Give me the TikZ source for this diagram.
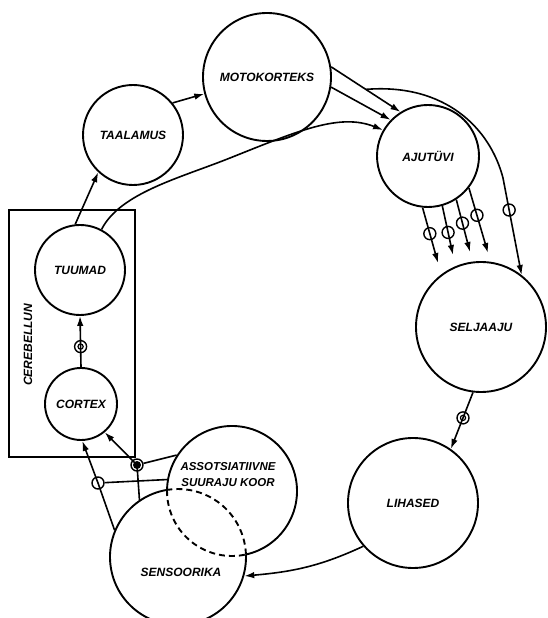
\documentclass[tikz,border=0pt]{standalone}
\usepackage{fontspec}
\newfontfamily\lblfont{Liberation Sans}
\usetikzlibrary{arrows.meta,calc}

\begin{document}
\begin{tikzpicture}[x=1pt,y=1pt,
    lbl/.style={font=\lblfont\bfseries\itshape\fontsize{12}{15}\selectfont,align=center},
    ring/.style={lbl,circle,draw,line width=1.9pt,inner sep=0pt},
    ringline/.style={line width=1.9pt},
    link/.style={line width=1.6pt},
    arr/.style={link,-{Latex[length=10pt,width=6.5pt]}},
    sign/.style={circle,draw,line width=1.4pt,minimum size=12pt,inner sep=0pt},
    signring/.style={sign,path picture={\draw[line width=1.2pt] (path picture bounding box.center) circle (2.6pt);}},
    signdark/.style={sign,path picture={\fill (path picture bounding box.center) circle (4pt);}}]
    \useasboundingbox (0,0) rectangle (547,618);

    \node[ring,minimum size=128pt] (motor) at (267,541) {MOTOKORTEKS};
    \node[ring,minimum size=100pt] (taal) at (133,483) {TAALAMUS};
    \node[ring,minimum size=102pt] (aju) at (428,462) {AJUTÜVI};
    \node[ring,minimum size=130pt] (selj) at (481,291) {SELJAAJU};
    \node[ring,minimum size=130pt] (lih) at (413,115) {LIHASED};
    \node[ring,minimum size=90pt] (tuum) at (80,348) {TUUMAD};
    \node[ring,minimum size=72pt] (cort) at (81,214) {CORTEX};
    \node[ring,draw=none,minimum size=130pt] (assoc) at (232,127) {};
    \node[ring,draw=none,minimum size=136pt] (sens) at (178,61) {};
    \node[lbl,font=\lblfont\bfseries\itshape\fontsize{11.5}{16}\selectfont] (assoctxt) at (228,143) {ASSOTSIATIIVNE\\SUURAJU KOOR};
    \node[lbl] (senstxt) at (181,46) {SENSOORIKA};

    \draw[line width=2.2pt] (9,161) rectangle (135,408);
    \node[lbl,rotate=90] (cereb) at (28,273) {CEREBELLUN};

    \draw[ringline] (assoc) ++(-77.6:65) arc[start angle=-77.6,end angle=179.1,radius=65];
    \draw[ringline,dash pattern=on 6pt off 4pt] (assoc) ++(179.1:65) arc[start angle=179.1,end angle=282.4,radius=65];
    \draw[ringline] (sens) ++(99.3:68) arc[start angle=99.3,end angle=362.1,radius=68];
    \draw[ringline,dash pattern=on 6pt off 4pt] (sens) ++(2.1:68) arc[start angle=2.1,end angle=99.3,radius=68];

    \draw[arr] (tuum.96) -- (taal.227);
    \draw[arr] (taal.39) -- (motor.195);
    \draw[arr] (tuum.62) .. controls (120,425) and (180,440) .. (230,460)
        .. controls (300,488) and (340,505) .. (aju.150);
    \draw[arr] (motor.9) -- (aju.122);
    \draw[arr] (motor.-9) -- (aju.136);
    \draw[arr] ($(motor.9)!0.5!(aju.122)$) .. controls (445,535) and (490,490) .. (503,440)
        -- node[sign,pos=0.33] (s1) {} (selj.52);
    \foreach \a/\x/\y/\p [count=\i] in {264/438/355/0.47, 286/453/363/0.54, 303/470/366/0.45, 322/488/365/0.42}
        \draw[arr] (aju.\a) -- node[sign,pos=\p] (a\i) {} (\x,\y);
    \draw[arr] (selj.263) -- node[signring,pos=0.45] (s2) {} (lih.55);
    \draw[arr] (lih.221) to[out=205,in=5] (sens.-16);

    \node[sign] (ma) at (98,135) {};
    \node[signdark] (mb) at (137,153) {};
    \draw[arr] (sens.157) -- (ma.center) -- (cort.-88);
    \draw[link] (assoc.170) -- (ma);
    \draw[arr] (sens.124) -- (mb.center) -- (cort.-50);
    \draw[link] (assoc.147) -- (mb);
    \draw[arr] (cort.90) -- node[signring,pos=0.4] (s3) {} (tuum.-90);
\end{tikzpicture}
\end{document}
